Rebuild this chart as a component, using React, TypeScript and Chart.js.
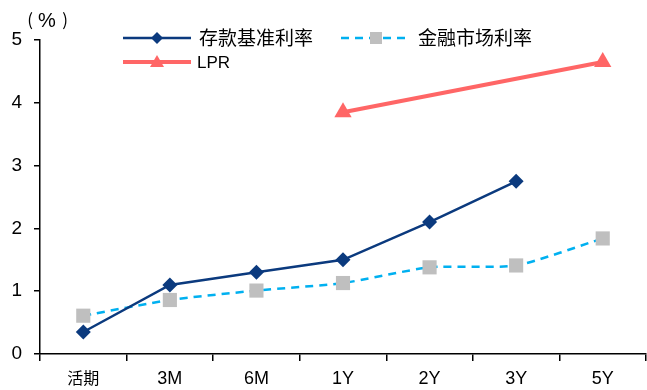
import React, { useEffect, useRef } from "react";
import { Chart, registerables } from "chart.js";

Chart.register(...registerables);

const categories = ["活期", "3M", "6M", "1Y", "2Y", "3Y", "5Y"];
const depositRate = [0.35, 1.1, 1.3, 1.5, 2.1, 2.75, null];
const marketRate = [0.61, 0.86, 1.01, 1.13, 1.38, 1.41, 1.84];
const lprRate = [null, null, null, 3.85, null, null, 4.65];
const yTicks = [0, 1, 2, 3, 4, 5];

const NAVY = "#0B3A7E";
const CYAN = "#00B0F0";
const GRAY = "#BFBFBF";
const RED = "#FF6666";
const CJK = '"Noto Sans CJK SC", sans-serif';
const LAT = '"Liberation Sans", Arial, sans-serif';

const legendPlugin = {
  id: "customLegend",
  afterDraw(chart: any) {
    const ctx = chart.ctx;
    ctx.save();
    ctx.fillStyle = "#000";
    ctx.textBaseline = "middle";
    ctx.textAlign = "center";
    ctx.font = `17px ${CJK}`;
    ctx.fillText("(", 30, 20);
    ctx.fillText(")", 65, 20);
    ctx.font = `20px ${LAT}`;
    ctx.fillText("%", 47, 21);
    ctx.textAlign = "left";

    // deposit
    ctx.strokeStyle = NAVY;
    ctx.lineWidth = 2.5;
    ctx.beginPath();
    ctx.moveTo(123, 38);
    ctx.lineTo(191, 38);
    ctx.stroke();
    ctx.fillStyle = NAVY;
    ctx.beginPath();
    ctx.moveTo(157, 32);
    ctx.lineTo(163, 38);
    ctx.lineTo(157, 44);
    ctx.lineTo(151, 38);
    ctx.closePath();
    ctx.fill();
    ctx.fillStyle = "#000";
    ctx.font = `19px ${CJK}`;
    ctx.fillText("存款基准利率", 199, 38);

    // market
    ctx.strokeStyle = CYAN;
    ctx.lineWidth = 2.5;
    ctx.setLineDash([8, 6]);
    ctx.beginPath();
    ctx.moveTo(341, 38);
    ctx.lineTo(407, 38);
    ctx.stroke();
    ctx.setLineDash([]);
    ctx.fillStyle = GRAY;
    ctx.fillRect(370, 32, 12, 12);
    ctx.fillStyle = "#000";
    ctx.fillText("金融市场利率", 418, 38);

    // LPR
    ctx.strokeStyle = RED;
    ctx.lineWidth = 4;
    ctx.beginPath();
    ctx.moveTo(123, 62);
    ctx.lineTo(191, 62);
    ctx.stroke();
    ctx.fillStyle = RED;
    ctx.beginPath();
    ctx.moveTo(157, 55);
    ctx.lineTo(164, 67);
    ctx.lineTo(150, 67);
    ctx.closePath();
    ctx.fill();
    ctx.fillStyle = "#000";
    ctx.font = `17px ${LAT}`;
    ctx.fillText("LPR", 197, 63);
    ctx.restore();
  },
};

export default function App() {
  const ref = useRef<HTMLCanvasElement>(null);
  useEffect(() => {
    document.body.style.margin = "0";
    const chart = new Chart(ref.current!, {
      type: "line",
      data: {
        labels: categories,
        datasets: [
          {
            label: "存款基准利率",
            data: depositRate,
            borderColor: NAVY,
            backgroundColor: NAVY,
            borderWidth: 2.5,
            pointStyle: "rectRot",
            pointRadius: 7.5,
            pointBorderWidth: 0,
            spanGaps: false,
          },
          {
            label: "金融市场利率",
            data: marketRate,
            borderColor: CYAN,
            backgroundColor: GRAY,
            borderWidth: 2.5,
            borderDash: [8, 6],
            pointStyle: "rect",
            pointRadius: 10,
            pointBorderWidth: 0,
            tension: 0.2,
          },
          {
            label: "LPR",
            data: lprRate,
            borderColor: RED,
            backgroundColor: RED,
            borderWidth: 4,
            pointStyle: "triangle",
            pointRadius: 10,
            pointBorderWidth: 0,
            spanGaps: true,
          },
        ],
      },
      options: {
        animation: false,
        responsive: false,
        layout: {
          autoPadding: false,
          padding: { top: 40, right: 1, left: 0, bottom: 0 },
        },
        plugins: { legend: { display: false }, tooltip: { enabled: false } },
        scales: {
          x: {
            offset: true,
            grid: {
              display: true,
              offset: true,
              drawOnChartArea: false,
              drawTicks: true,
              tickLength: 7,
              color: "#000",
              lineWidth: 1.5,
            },
            border: { display: true, color: "#000", width: 1.5 },
            ticks: {
              color: "#000",
              padding: 7,
              font: (c: any) => ({
                family: c.index === 0 ? CJK : LAT,
                size: c.index === 0 ? 16 : 18,
              }),
              maxRotation: 0,
              autoSkip: false,
            },
            afterFit: (s: any) => {
              s.height = 36;
              s.paddingLeft = 0;
              s.paddingRight = 0;
            },
          },
          y: {
            min: 0,
            max: 5,
            afterBuildTicks: (s: any) => {
              s.ticks = yTicks.map((v) => ({ value: v }));
            },
            grid: {
              display: true,
              drawOnChartArea: false,
              drawTicks: true,
              tickLength: 6,
              color: "#000",
              lineWidth: 1.5,
            },
            border: { display: true, color: "#000", width: 1.5 },
            ticks: {
              color: "#000",
              padding: 12,
              font: { family: LAT, size: 19 },
            },
            afterFit: (s: any) => {
              s.width = 40;
              s.paddingTop = 0;
              s.paddingBottom = 0;
            },
          },
        },
      },
      plugins: [legendPlugin],
    });
    return () => chart.destroy();
  }, []);
  return (
    <div style={{ width: 647, height: 390 }}>
      <canvas ref={ref} width={647} height={390} style={{ display: "block" }} />
    </div>
  );
}
